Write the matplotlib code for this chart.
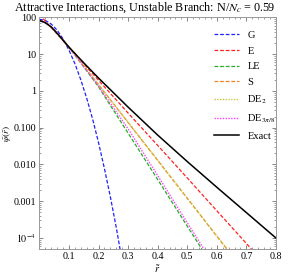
import matplotlib
matplotlib.use('Agg')
from matplotlib import pyplot as plt
from matplotlib.ticker import FixedLocator, FixedFormatter, NullFormatter

plt.rcParams['font.family'] = ['Liberation Serif', 'DejaVu Serif']
plt.rcParams['mathtext.fontset'] = 'stix'

# values
r_g = [0, 0.02, 0.04, 0.06, 0.08, 0.10, 0.12, 0.14, 0.16, 0.18, 0.20, 0.22, 0.24, 0.26, 0.28]
psi_g = [89, 83, 66, 45, 26, 12.9, 5.5, 2.0, 0.63, 0.17, 0.039, 0.0076, 0.0013, 1.9e-4, 2.3e-5]

r_e = [0, 0.05, 0.1, 0.2, 0.3, 0.4, 0.5, 0.6, 0.7, 0.75]
psi_e = [120, 43, 15.5, 1.95, 0.25, 0.033, 0.0043, 5.5e-4, 7.1e-5, 2.5e-5]

r_le = [0, 0.02, 0.04, 0.06, 0.08, 0.1, 0.15, 0.2, 0.3, 0.4, 0.5, 0.55, 0.58]
psi_le = [83, 72, 55, 37, 24, 15.5, 4.5, 1.29, 0.071, 0.0039, 2.1e-4, 4.9e-5, 2.0e-5]

r_s = [0, 0.02, 0.04, 0.06, 0.08, 0.1, 0.15, 0.2, 0.3, 0.4, 0.5, 0.6, 0.65]
psi_s = [83, 72, 55, 37, 24, 15.5, 4.8, 1.48, 0.138, 0.0129, 0.0012, 1.12e-4, 3.4e-5]
psi_de2 = [83, 72, 55, 37, 24, 15.5, 4.8, 1.50, 0.140, 0.0131, 0.00122, 1.14e-4, 3.5e-5]

r_de3 = [0, 0.02, 0.04, 0.06, 0.08, 0.1, 0.15, 0.2, 0.3, 0.4, 0.5, 0.56, 0.6]
psi_de3 = [83, 72, 55, 37, 24, 15.5, 4.6, 1.35, 0.093, 0.0050, 2.6e-4, 4.5e-5, 1.4e-5]

r_x = [0, 0.02, 0.04, 0.06, 0.08, 0.10, 0.15, 0.20, 0.30, 0.40, 0.50, 0.60, 0.70, 0.80]
psi_x = [83, 72, 55, 37, 24, 15.5, 5.8, 2.24, 0.363, 0.063, 0.0120, 0.0024, 4.9e-4, 1.0e-4]

fig = plt.figure(dpi=100, figsize=(2.88, 2.75))
ax = fig.add_axes([0.137, 0.0945, 0.821, 0.842])

ax.plot(r_g, psi_g, color='#2020ff', ls=(0, (3, 1.5)), lw=0.9, label='G')
ax.plot(r_e, psi_e, color='#ff2020', ls=(0, (3, 1.5)), lw=0.9, label='E')
ax.plot(r_le, psi_le, color='#20b020', ls=(0, (3, 1.5)), lw=0.9, label='LE')
ax.plot(r_s, psi_s, color='#f08020', ls=(0, (3, 1.5)), lw=0.9, label='S')
ax.plot(r_s, psi_de2, color='#c8c840', ls=(0, (1, 1)), lw=1.0, label='DE$_2$')
ax.plot(r_de3, psi_de3, color='#ff40ff', ls=(0, (1, 1)), lw=1.0, label='DE$_{3\\pi/8}$')
ax.plot(r_x, psi_x, color='black', lw=1.1, label='Exact')

ax.set_yscale('log')
ax.set_xlim(0, 0.8)
ax.set_ylim(5e-5, 100)

ax.xaxis.set_major_locator(FixedLocator([0.1, 0.2, 0.3, 0.4, 0.5, 0.6, 0.7, 0.8]))
ax.xaxis.set_major_formatter(FixedFormatter(['0.1', '0.2', '0.3', '0.4', '0.5', '0.6', '0.7', '0.8']))
ax.xaxis.set_minor_locator(FixedLocator([i * 0.02 for i in range(41)]))
yt = [100, 10, 1, 0.1, 0.01, 0.001, 1e-4]
ax.yaxis.set_major_locator(FixedLocator(yt))
ax.yaxis.set_major_formatter(FixedFormatter(['100', '10', '1', '0.100', '0.010', '0.001', '$10^{-4}$']))
minors = []
for d in [1e-5, 1e-4, 1e-3, 1e-2, 1e-1, 1, 10]:
    for k in range(2, 10):
        minors.append(k * d)
ax.yaxis.set_minor_locator(FixedLocator(minors))
ax.yaxis.set_minor_formatter(NullFormatter())

ax.tick_params(which='both', direction='in', top=True, right=True, labelsize=7.2, colors='#555555',
               labelcolor='black', pad=2)
ax.tick_params(which='major', length=3, width=0.5)
ax.tick_params(which='minor', length=1.5, width=0.4)
for s in ax.spines.values():
    s.set_color('#999999')
    s.set_linewidth(0.7)

fig.text(0.503, 1.0, 'Attractive Interactions, Unstable Branch: N/$N_c$ = 0.59', fontsize=8.7,
         ha='center', va='top')
ax.set_xlabel('$\\tilde{r}$', fontsize=7.5)
ax.xaxis.set_label_coords(0.5, -0.062)
ax.set_ylabel('$\\tilde{\\psi}(\\tilde{r})$', fontsize=6.8)
ax.yaxis.set_label_coords(-0.106, 0.5)

leg = ax.legend(loc='upper right', frameon=False, fontsize=7.5, handlelength=2.4,
                labelspacing=0.62, bbox_to_anchor=(1.03, 0.975), borderaxespad=0.3)

fig.savefig('out.png', dpi=100)
